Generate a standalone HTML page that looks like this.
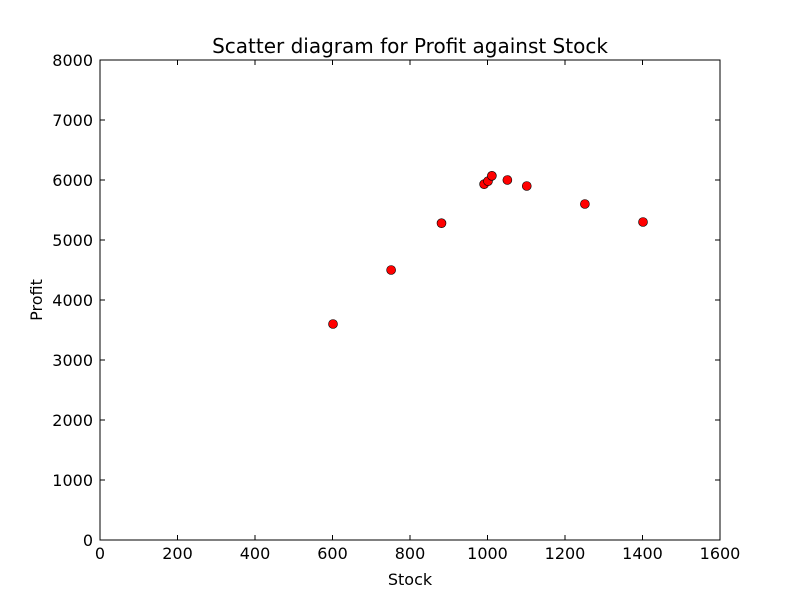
<!DOCTYPE html>
<html><head><meta charset="utf-8"><style>
body{margin:0;background:#fff;}
text{font-family:"DejaVu Sans","Liberation Sans",sans-serif;}
</style></head><body>
<svg id="chart" width="800" height="600">
<rect width="800" height="600" fill="#fff"/>
<text x="410" y="53" font-size="20" text-anchor="middle">Scatter diagram for Profit against Stock</text>
<text x="410" y="585" font-size="16" text-anchor="middle">Stock</text>
<text x="42" y="300" font-size="16" text-anchor="middle" transform="rotate(-90 42 300)">Profit</text>
<g id="ticks"></g>
<g id="points"></g>
<rect x="100" y="60" width="620" height="480" fill="none" stroke="#000" stroke-width="1"/>
</svg>
<script>
const stock=[600,750,880,990,1000,1010,1050,1100,1250,1400];
const profit=[3600,4500,5280,5930,5980,6070,6000,5900,5600,5300];
const xTicks=[0,200,400,600,800,1000,1200,1400,1600];
const yTicks=[0,1000,2000,3000,4000,5000,6000,7000,8000];
const NS='http://www.w3.org/2000/svg';
const X=v=>100+v/1600*620, Y=v=>540-v/8000*480;
const tg=document.getElementById('ticks'), pg=document.getElementById('points');
function mk(tag,a,p){const e=document.createElementNS(NS,tag);for(const k in a)e.setAttribute(k,a[k]);p.appendChild(e);return e;}
xTicks.forEach(t=>{const x=X(t);
mk('line',{x1:x,x2:x,y1:540,y2:535,stroke:'#000'},tg);
mk('line',{x1:x,x2:x,y1:60,y2:65,stroke:'#000'},tg);
const l=mk('text',{x:x,y:559,'font-size':16,'text-anchor':'middle'},tg);l.textContent=t;

});
yTicks.forEach(t=>{const y=Y(t);
mk('line',{x1:100,x2:105,y1:y,y2:y,stroke:'#000'},tg);
mk('line',{x1:720,x2:715,y1:y,y2:y,stroke:'#000'},tg);
const l=mk('text',{x:93,y:y+6,'font-size':16,'text-anchor':'end'},tg);l.textContent=t;

});
stock.forEach((s,i)=>{const c=mk('circle',{cx:X(s)+0.5,cy:Y(profit[i]),r:4.5,fill:'#f00',stroke:'#000','stroke-width':0.6},pg);

});
</script>
</body></html>
